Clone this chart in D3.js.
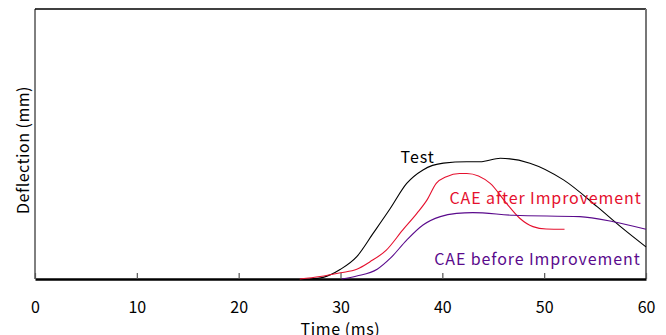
<!DOCTYPE html>
<html>
<head>
<meta charset="utf-8">
<script src="https://cdn.jsdelivr.net/npm/d3@7"></script>
<style>
  body { margin: 0; background: #fff; }
  svg text { font-family: "Noto Sans CJK JP", "DejaVu Sans", sans-serif; }
</style>
</head>
<body>
<div id="chart"></div>
<script>
// time (ms) and deflection (relative, 0-100 of axis height)
const testT = [27.0, 28.3, 30.0, 31.6, 33.2, 34.9, 36.5, 38.1, 40.1, 42.4, 43.7, 45.7, 48.6, 51.9, 55.2, 57.5, 60.0];
const testV = [0, 0.6, 3.6, 8.3, 16.9, 26.2, 35.4, 40.4, 42.9, 43.4, 43.4, 44.7, 42.9, 36.7, 26.8, 19.4, 11.9];

const afterT = [26.0, 28.0, 30.0, 31.6, 32.9, 34.5, 36.1, 37.5, 38.5, 39.4, 40.4, 41.7, 42.4, 44.7, 46.3, 47.6, 48.9, 50.2, 52.0];
const afterV = [0, 0.9, 2.3, 3.6, 6.4, 10.7, 18.1, 24.3, 29.3, 35.4, 37.9, 39.1, 39.1, 35.4, 28.0, 22.5, 19.4, 18.5, 18.4];

const beforeT = [30.1, 31.6, 33.6, 34.9, 36.5, 38.1, 39.8, 41.4, 43.0, 47.0, 53.5, 56.8, 60.0];
const beforeV = [0, 1.1, 3.6, 7.7, 14.4, 20.0, 23.1, 24.3, 24.6, 23.6, 23.1, 21.2, 18.4];

const xTicks = [0, 10, 20, 30, 40, 50, 60];

const series = [
  {name: 'Test', t: testT, v: testV, color: '#000000', label: 'Test', lx: 35.9, ly: 45.5},
  {name: 'after', t: afterT, v: afterV, color: '#e5102e', label: 'CAE after Improvement', lx: 40.7, ly: 30.5},
  {name: 'before', t: beforeT, v: beforeV, color: '#5a0a8c', label: 'CAE before Improvement', lx: 39.2, ly: 7.8}
];

const W = 666, H = 335;
const margin = {top: 9, right: 20, bottom: 56, left: 35};
const width = W - margin.left - margin.right;
const height = H - margin.top - margin.bottom;

const svg = d3.select('#chart').append('svg')
    .attr('width', W)
    .attr('height', H);

const g = svg.append('g')
    .attr('transform', `translate(${margin.left},${margin.top})`);

const x = d3.scaleLinear().domain([0, 60]).range([0, width]);
const y = d3.scaleLinear().domain([0, 100]).range([height, 0]);

// frame
g.append('line').attr('x1', 0).attr('x2', width).attr('y1', 0).attr('y2', 0)
    .attr('stroke', '#000').attr('stroke-width', 1.5);
g.append('line').attr('x1', 0).attr('x2', 0).attr('y1', 0).attr('y2', height)
    .attr('stroke', '#000').attr('stroke-width', 1);
g.append('line').attr('x1', width).attr('x2', width).attr('y1', 0).attr('y2', height)
    .attr('stroke', '#777').attr('stroke-width', 2);

// x axis, ticks pointing inward
const xAxis = g.append('g')
    .attr('transform', `translate(0,${height})`)
    .call(d3.axisBottom(x).tickValues(xTicks).tickSizeInner(-6).tickSizeOuter(0).tickPadding(23));
xAxis.select('.domain').attr('stroke', '#000').attr('stroke-width', 2.5);
xAxis.selectAll('.tick line').attr('stroke', '#555').attr('stroke-width', 1.2);
xAxis.selectAll('.tick text')
    .attr('font-size', 16)
    .attr('fill', '#000');

// curves
const line = d3.line()
    .x(d => x(d[0]))
    .y(d => y(d[1]))
    .curve(d3.curveMonotoneX);

series.forEach(s => {
  const pts = s.t.map((t, i) => [t, s.v[i]]);
  g.append('path')
      .datum(pts)
      .attr('fill', 'none')
      .attr('stroke', s.color)
      .attr('stroke-width', 1.1)
      .attr('d', line);
  g.append('text')
      .attr('x', x(s.lx))
      .attr('y', y(s.ly))
      .attr('dominant-baseline', 'central')
      .attr('font-size', 16)
      .attr('letter-spacing', 0.9)
      .attr('fill', s.color)
      .text(s.label);
});

// axis titles
svg.append('text')
    .attr('x', margin.left + x(30))
    .attr('y', 328)
    .attr('text-anchor', 'middle')
    .attr('dominant-baseline', 'central')
    .attr('font-size', 16)
    .attr('letter-spacing', 0.6)
    .text('Time (ms)');

svg.append('text')
    .attr('transform', `translate(22,${margin.top + height / 2 + 6}) rotate(-90)`)
    .attr('text-anchor', 'middle')
    .attr('dominant-baseline', 'central')
    .attr('font-size', 16)
    .attr('letter-spacing', 0.5)
    .text('Deflection (mm)');
</script>
</body>
</html>
